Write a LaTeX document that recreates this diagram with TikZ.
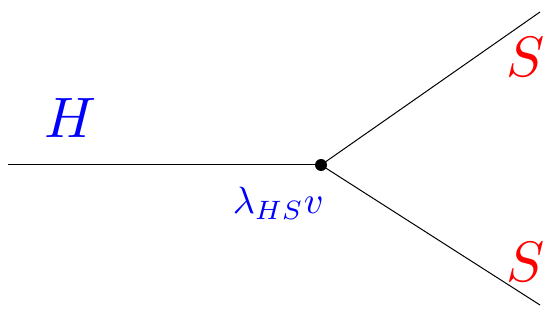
\documentclass[tikz,border=0pt]{standalone}
\usetikzlibrary{positioning}
\definecolor{higgsBlue}{HTML}{0000FF}
\definecolor{scalarRed}{HTML}{FF0000}

\begin{document}
\begin{tikzpicture}[x=1pt,y=-1pt,
  leg/.style={line width=1pt},
  lbl/.style={inner sep=0pt, scale=5.7},
]
  \useasboundingbox (0,0) rectangle (546,320);
  \coordinate (hin) at (8,165);
  \coordinate (sup1) at (540,12);
  \coordinate (sdn1) at (540,305);
  \node[circle, fill=black, inner sep=0pt, minimum size=12pt] (vtx) at (321,165) {};

  \draw[leg] (hin) -- (vtx.center);
  \draw[leg] (vtx.center) -- (sup1);
  \draw[leg] (vtx.center) -- (sdn1);

  \node[lbl, text=higgsBlue] (hlab) at (71,118) {$H$};
  \node[lbl, text=scalarRed] (slabup) at (526,57) {$S$};
  \node[lbl, text=scalarRed] (slabdn) at (526,262) {$S$};
  \node[inner sep=0pt, scale=3.8, anchor=base west, text=higgsBlue] (coup) at (232,214)
    {$\lambda_{HS}v$};
\end{tikzpicture}
\end{document}
